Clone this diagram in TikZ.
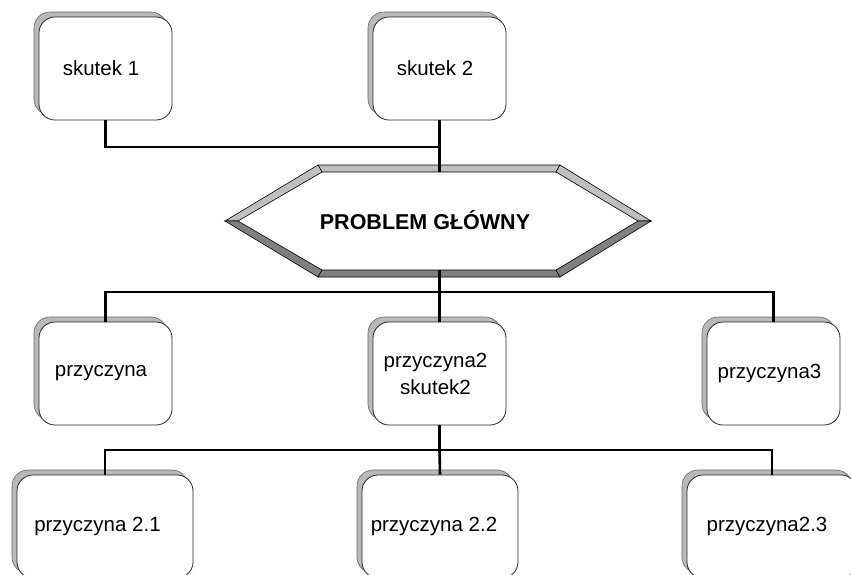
\documentclass[tikz,border=0pt]{standalone}
\usepackage{fontspec}
\setmainfont{Liberation Sans}
\begin{document}
\begin{tikzpicture}[x=1pt,y=-1pt,
  front/.style={draw=black!85, line width=0.8pt, fill=white, rounded corners=16pt,
    minimum width=133pt, minimum height=103pt, inner sep=0pt, align=center,
    font=\fontsize{20.5}{27}\selectfont},
  back/.style={draw=black!60, line width=0.6pt, fill=gray!55, rounded corners=16pt,
    minimum width=133pt, minimum height=103pt, inner sep=0pt},
  conn/.style={line width=2.6pt, line join=miter},
  light/.style={fill=black!25, draw=black, line width=0.6pt, line join=miter},
  dark/.style={fill=black!50, draw=black, line width=0.6pt, line join=miter}
]
\useasboundingbox (0,0) rectangle (851,574);
\clip (0,0) rectangle (851,574);

% row 1
\node[back] (s1b) at (100.5,63.5) {};
\node[front] (s1) at (105.5,68.5) {skutek 1\hspace*{9pt}};
\node[back] (s2b) at (434.5,63.5) {};
\node[front] (s2) at (439.5,68.5) {skutek 2\hspace*{9pt}};

% hexagon
\coordinate (L) at (225,221);  \coordinate (TL) at (318,165); \coordinate (TR) at (560,165);
\coordinate (R) at (651,221);  \coordinate (BR) at (560,277); \coordinate (BL) at (318,277);
\coordinate (iL) at (238,221); \coordinate (iTL) at (322,172); \coordinate (iTR) at (556,172);
\coordinate (iR) at (638,221); \coordinate (iBR) at (556,270); \coordinate (iBL) at (322,270);
\fill[white] (iL) -- (iTL) -- (iTR) -- (iR) -- (iBR) -- (iBL) -- cycle;
\draw[light] (TL) -- (TR) -- (iTR) -- (iTL) -- cycle;
\draw[light] (L) -- (TL) -- (iTL) -- (iL) -- cycle;
\draw[light] (TR) -- (R) -- (iR) -- (iTR) -- cycle;
\draw[dark] (L) -- (iL) -- (iBL) -- (BL) -- cycle;
\draw[dark] (BL) -- (iBL) -- (iBR) -- (BR) -- cycle;
\draw[dark] (R) -- (BR) -- (iBR) -- (iR) -- cycle;
\node[font=\fontsize{21.5}{25}\selectfont\bfseries] (prob) at (425,220) {PROBLEM GŁÓWNY};
\coordinate (htop) at (439.5,172);
\coordinate (hbot) at (439.5,270);

% row 2
\node[back] (p1b) at (100.5,368.5) {};
\node[front] (p1) at (105.5,373.5) {przyczyna\hspace*{9pt}};
\node[back] (p2b) at (434.5,368.5) {};
\node[front] (p2) at (439.5,373.5) {przyczyna2\hspace*{8pt}\\skutek2\hspace*{8pt}};
\node[back] (p3b) at (768.5,368.5) {};
\node[front] (p3) at (773.5,373.5) {przyczyna3\hspace*{8pt}};

% row 3
\node[back, minimum width=176pt] (q1b) at (100,521.5) {};
\node[front, minimum width=176pt] (q1) at (105,526.5) {\raisebox{-4pt}{przyczyna 2.1}\hspace*{15pt}};
\node[back, minimum width=156pt] (q2b) at (435,521.5) {};
\node[front, minimum width=156pt] (q2) at (440,526.5) {przyczyna 2.2\hspace*{12pt}};
\node[back, minimum width=170pt] (q3b) at (767,521.5) {};
\node[front, minimum width=170pt] (q3) at (772,526.5) {\raisebox{-4pt}{przyczyna2.3}\hspace*{10pt}};

% connectors
\coordinate (j1) at (439.5,147);
\coordinate (j2) at (439.5,292);
\coordinate (j3) at (439.5,450);
\draw[conn] (s1.south) |- (j1);
\draw[conn] (s2.south) -- (htop);
\draw[conn] (hbot) -- (j2);
\draw[conn] (p1.north) |- (j2) -| (p3.north);
\draw[conn] (j2) -- (p2.north);
\draw[conn] (p2.south) -- (j3);
\draw[conn] (q1.north) |- (j3) -| (q3.north);
\draw[conn] (j3) -- (q2.north);
\end{tikzpicture}
\end{document}
